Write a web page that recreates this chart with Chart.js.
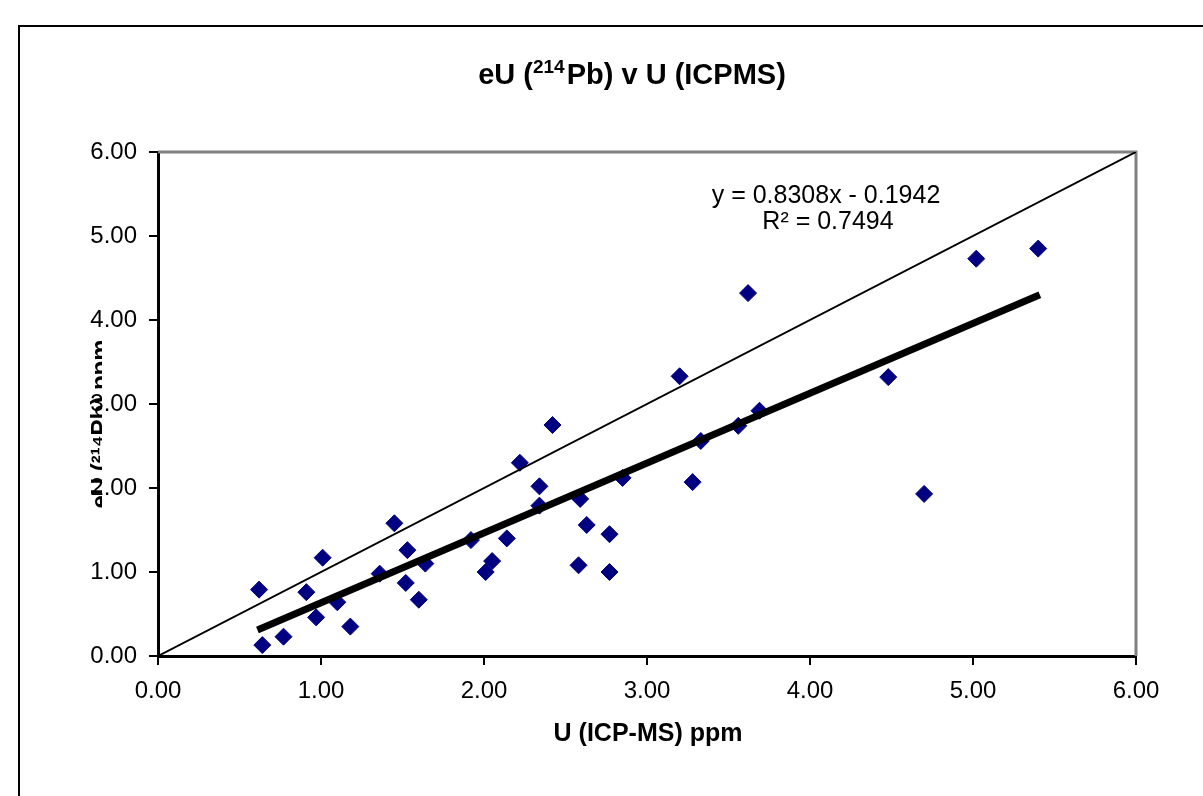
<!DOCTYPE html>
<html>
<head>
<meta charset="utf-8">
<script src="https://cdn.jsdelivr.net/npm/chart.js@4.4.0/dist/chart.umd.min.js"></script>
<style>
  html,body{margin:0;padding:0;background:#fff;}
  #wrap{position:relative;width:1203px;height:796px;overflow:hidden;}
  #frame{position:absolute;left:18px;top:25px;width:1200px;height:800px;border:2px solid #000;box-shadow:1px 1px 0 #999;}
  canvas{position:absolute;left:0;top:0;}
</style>
</head>
<body>
<div id="wrap">
  <div id="frame"></div>
  <canvas id="c" width="1203" height="796"></canvas>
</div>
<script>
// U (ICP-MS) ppm vs eU (214Pb) ppm
let uIcpms = [0.62,0.64,0.77,0.91,0.97,1.01,1.10,1.18,1.36,1.45,1.52,1.53,1.60,1.64,1.92,2.01,2.05,2.14,2.22,2.34,2.34,2.42,2.58,2.59,2.63,2.77,2.77,2.85,3.20,3.28,3.33,3.56,3.62,3.69,4.48,4.70,5.02,5.40];
let eU214  = [0.79,0.13,0.23,0.76,0.46,1.17,0.64,0.35,0.98,1.58,0.87,1.26,0.67,1.10,1.38,1.00,1.13,1.40,2.30,2.02,1.79,2.75,1.08,1.87,1.56,1.00,1.45,2.12,3.33,2.07,2.56,2.74,4.32,2.92,3.32,1.93,4.73,4.85];
let trendX = [0.61, 5.41];
let trendY = [0.31, 4.30];
let oneToOneX = [0, 6];
let oneToOneY = [0, 6];
let titleParts = ["eU (", "214", "Pb) v U (ICPMS)"];
let xTitle = "U (ICP-MS) ppm";
let yTitle = "eU (\u00b2\u00b9\u2074Pb) ppm";
let eqLines = ["y = 0.8308x - 0.1942", "R\u00b2 = 0.7494"];

const pts = (xs, ys) => xs.map((x,i)=>({x, y:ys[i]}));
const FONT = "Arial, 'Liberation Sans'";

const textPlugin = {
  id:'texts',
  beforeDatasetsDraw(chart){
    let {ctx, chartArea:a} = chart;
    ctx.save();
    ctx.strokeStyle = "#808080"; ctx.lineWidth = 3;
    ctx.beginPath();
    ctx.moveTo(a.left, a.top); ctx.lineTo(a.right, a.top); ctx.lineTo(a.right, a.bottom);
    ctx.stroke();
    ctx.restore();
  },
  beforeDraw(chart){
    // y axis title, mostly hidden behind the tick labels like in the original
    let ctx = chart.ctx;
    ctx.save();
    ctx.beginPath(); ctx.rect(88, 300, 14, 260); ctx.clip();
    ctx.translate(108, 424);
    ctx.rotate(-Math.PI/2);
    ctx.font = "bold 24px " + FONT;
    ctx.fillStyle = "#000"; ctx.textAlign = "center"; ctx.textBaseline = "alphabetic";
    ctx.fillText(yTitle, 0, 0);
    ctx.restore();
  },
  afterDraw(chart){
    let ctx = chart.ctx;
    ctx.save();
    ctx.fillStyle = "#000"; ctx.textBaseline = "alphabetic";
    // title with raised superscript
    let big = "bold 29px " + FONT, small = "bold 19px " + FONT;
    ctx.font = big; let w0 = ctx.measureText(titleParts[0]).width, w2 = ctx.measureText(titleParts[2]).width;
    ctx.font = small; let w1 = ctx.measureText(titleParts[1]).width + 2;
    let x = 632 - (w0 + w1 + w2) / 2;
    ctx.textAlign = "left";
    ctx.font = big; ctx.fillText(titleParts[0], x, 84);
    ctx.font = small; ctx.fillText(titleParts[1], x + w0, 73);
    ctx.font = big; ctx.fillText(titleParts[2], x + w0 + w1, 84);
    ctx.textAlign = "center";
    ctx.font = "bold 25px " + FONT;
    ctx.fillText(xTitle, 648, 741);
    ctx.font = "25px " + FONT;
    ctx.fillText(eqLines[0], 826, 203);
    ctx.fillText(eqLines[1], 828, 229);
    ctx.restore();
  }
};

const axisCommon = {
  type:'linear', min:0, max:6,
  ticks:{stepSize:1, color:'#000', font:{family:FONT, size:24}, padding:12,
         callback:v=>v.toFixed(2)},
  grid:{drawOnChartArea:false, drawTicks:true, tickLength:9, color:'#000', lineWidth:2},
  border:{color:'#000', width:3}
};

new Chart(document.getElementById('c'), {
  type:'scatter',
  data:{datasets:[
    {label:'trend', data:pts(trendX,trendY), showLine:true, borderColor:'#000', borderWidth:7, pointRadius:0, order:1},
    {label:'1:1', data:pts(oneToOneX,oneToOneY), showLine:true, borderColor:'#000', borderWidth:2, pointRadius:0, order:2},
    {label:'data', data:pts(uIcpms,eU214), pointStyle:'rectRot', pointRadius:8.5, backgroundColor:'#000080', borderColor:'#000080', borderWidth:1, order:3}
  ]},
  options:{
    responsive:false, animation:false,
    layout:{padding:{left:0, right:67, top:152, bottom:80}},
    plugins:{legend:{display:false}, tooltip:{enabled:false}, title:{display:false}},
    scales:{
      x:Object.assign({}, axisCommon, {afterFit:s=>{s.height=60;}}),
      y:Object.assign({}, axisCommon, {afterFit:s=>{s.width=158;}})
    }
  },
  plugins:[textPlugin]
});
</script>
</body>
</html>
